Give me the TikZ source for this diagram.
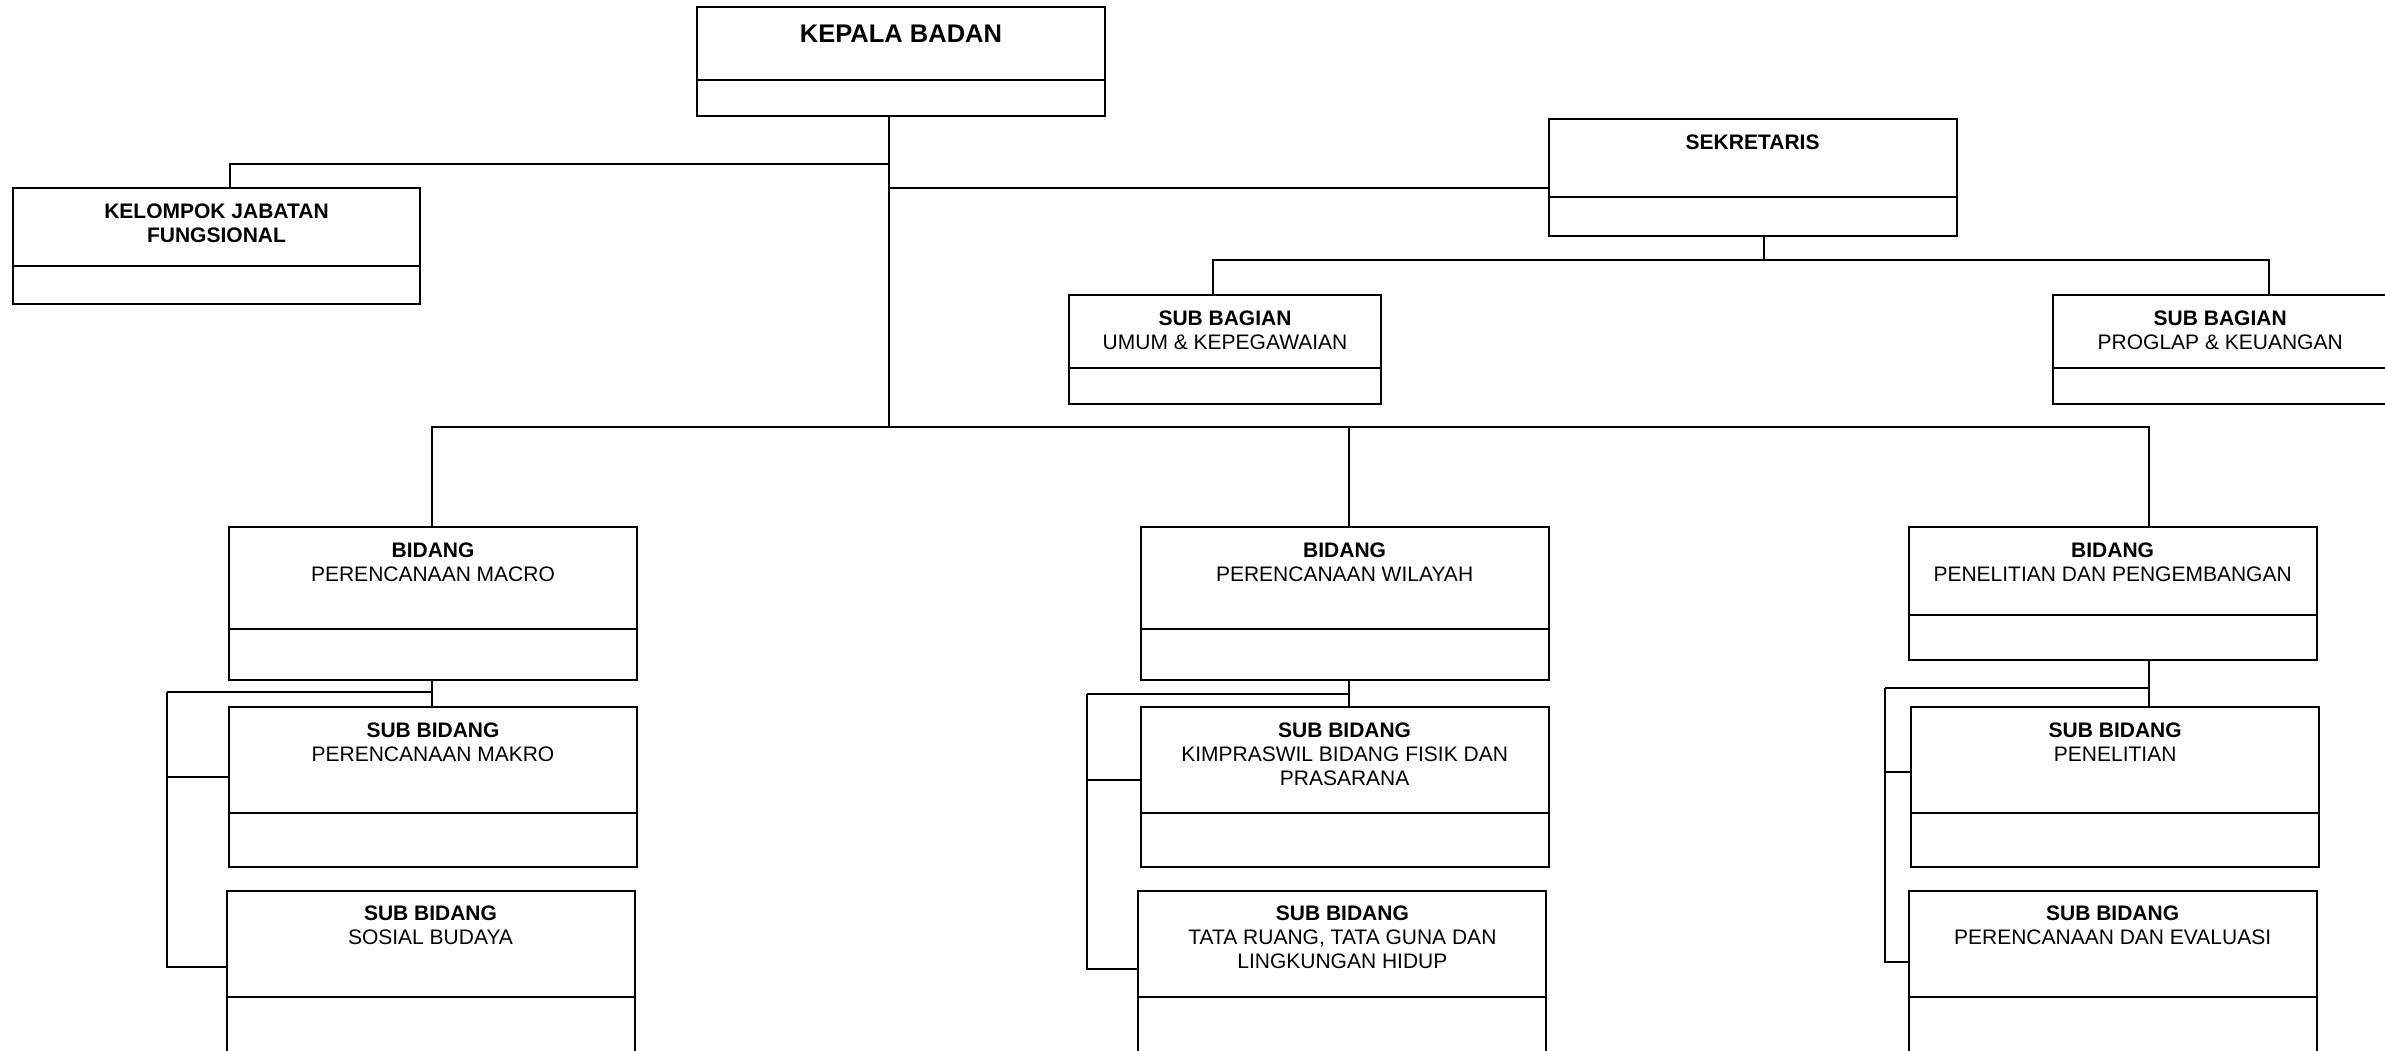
\documentclass[tikz,border=0pt]{standalone}
\usepackage{fontspec}
\setmainfont{Liberation Sans}
\usetikzlibrary{positioning}

\begin{document}
\begin{tikzpicture}[
        x=1pt, y=-1pt,
        font=\fontsize{21}{24}\selectfont,
        cell/.style={rectangle,draw,line width=2pt,inner sep=0pt,outer sep=0pt,anchor=north west},
        wide/.style={cell,minimum width=408pt},
        title/.style={align=center,inner sep=0pt,anchor=north},
        link/.style={line width=2pt}
    ]
    \useasboundingbox (0,0) rectangle (2385,1050);

    % pimpinan
    \node[wide,minimum height=73.3pt] (kb) at (697,6.7) {};
    \node[wide,minimum height=36pt,below=0pt of kb] (kb-b) {};
    \node[title,below=18.5pt of kb.north,font=\fontsize{25.5}{28}\selectfont\bfseries] (kb-t) {KEPALA BADAN};

    \node[cell,minimum width=407pt,minimum height=78pt] (kjf) at (13,188) {};
    \node[cell,minimum width=407pt,minimum height=38pt,below=0pt of kjf] (kjf-b) {};
    \node[title,below=16pt of kjf.north] (kjf-t) {\textbf{KELOMPOK JABATAN}\\\textbf{FUNGSIONAL}};

    % sekretariat
    \node[wide,minimum height=78.3pt] (sek) at (1548.6,118.7) {};
    \node[wide,minimum height=39pt,below=0pt of sek] (sek-b) {};
    \node[title,below=15.8pt of sek.north] (sek-t) {\textbf{SEKRETARIS}};

    \node[cell,minimum width=312pt,minimum height=72.7pt] (sbu) at (1069,295) {};
    \node[cell,minimum width=312pt,minimum height=36.3pt,below=0pt of sbu] (sbu-b) {};
    \node[title,below=16pt of sbu.north] (sbu-t) {\textbf{SUB BAGIAN}\\UMUM \& KEPEGAWAIAN};

    \node[cell,minimum width=335pt,minimum height=72.7pt] (sbp) at (2052.7,295) {};
    \node[cell,minimum width=335pt,minimum height=36.3pt,below=0pt of sbp] (sbp-b) {};
    \node[title,below=16pt of sbp.north] (sbp-t) {\textbf{SUB BAGIAN}\\PROGLAP \& KEUANGAN};

    % bidang
    \node[wide,minimum height=101.7pt] (bm) at (229,527.4) {};
    \node[wide,minimum height=51.2pt,below=0pt of bm] (bm-b) {};
    \node[title,below=15.3pt of bm.north] (bm-t) {\textbf{BIDANG}\\PERENCANAAN MACRO};

    \node[wide,minimum height=101.7pt] (bw) at (1140.6,527.4) {};
    \node[wide,minimum height=51.2pt,below=0pt of bw] (bw-b) {};
    \node[title,below=15.3pt of bw.north] (bw-t) {\textbf{BIDANG}\\PERENCANAAN WILAYAH};

    \node[wide,minimum height=87.6pt] (bp) at (1908.6,527.4) {};
    \node[wide,minimum height=44.6pt,below=0pt of bp] (bp-b) {};
    \node[title,below=15.3pt of bp.north] (bp-t) {\textbf{BIDANG}\\PENELITIAN DAN PENGEMBANGAN};

    % sub bidang
    \node[wide,minimum height=106.2pt] (sm1) at (229,707) {};
    \node[wide,minimum height=53.7pt,below=0pt of sm1] (sm1-b) {};
    \node[title,below=15.3pt of sm1.north] (sm1-t) {\textbf{SUB BIDANG}\\PERENCANAAN MAKRO};

    \node[wide,minimum height=106.7pt] (sm2) at (226.5,890.7) {};
    \node[wide,minimum height=60pt,below=0pt of sm2] (sm2-b) {};
    \node[title,below=15.3pt of sm2.north] (sm2-t) {\textbf{SUB BIDANG}\\SOSIAL BUDAYA};

    \node[wide,minimum height=106.2pt] (sw1) at (1140.6,707) {};
    \node[wide,minimum height=53.7pt,below=0pt of sw1] (sw1-b) {};
    \node[title,below=15.3pt of sw1.north] (sw1-t) {\textbf{SUB BIDANG}\\KIMPRASWIL BIDANG FISIK DAN\\PRASARANA};

    \node[wide,minimum height=106.7pt] (sw2) at (1138.4,890.7) {};
    \node[wide,minimum height=60pt,below=0pt of sw2] (sw2-b) {};
    \node[title,below=15.3pt of sw2.north] (sw2-t) {\textbf{SUB BIDANG}\\TATA RUANG, TATA GUNA DAN\\LINGKUNGAN HIDUP};

    \node[wide,minimum height=106.2pt] (sp1) at (1911.2,707) {};
    \node[wide,minimum height=53.7pt,below=0pt of sp1] (sp1-b) {};
    \node[title,below=15.3pt of sp1.north] (sp1-t) {\textbf{SUB BIDANG}\\PENELITIAN};

    \node[wide,minimum height=106.7pt] (sp2) at (1908.6,890.7) {};
    \node[wide,minimum height=60pt,below=0pt of sp2] (sp2-b) {};
    \node[title,below=15.3pt of sp2.north] (sp2-t) {\textbf{SUB BIDANG}\\PERENCANAAN DAN EVALUASI};

    % junctions
    \coordinate (trunk) at (888.5,427);
    \coordinate (j-kjf) at (229.6,163.7);
    \coordinate (j-sek) at (888.5,188.3);
    \coordinate (j-sb) at (1764,259.7);
    \coordinate (j-sbu) at (1213.3,259.7);
    \coordinate (j-sbp) at (2269.3,259.7);
    \coordinate (j-bm) at (432,427);
    \coordinate (j-bw) at (1349,427);
    \coordinate (j-bp) at (2149,427);
    \coordinate (r-m) at (166.8,692.2);
    \coordinate (r-w) at (1086.6,694);
    \coordinate (r-p) at (1885,687.7);

    % lines
    \draw[link] (trunk |- kb-b.south) -- (trunk);
    \draw[link] (trunk |- j-kjf) -- (j-kjf) -- (j-kjf |- kjf.north);
    \draw[link] (j-sek) -- (j-sek -| sek.west);

    \draw[link] (j-sb |- sek-b.south) -- (j-sb);
    \draw[link] (j-sbu |- sbu.north) -- (j-sbu) -- (j-sbp) -- (j-sbp |- sbp.north);

    \draw[link] (j-bm |- bm.north) -- (j-bm) -- (j-bp) -- (j-bp |- bp.north);
    \draw[link] (j-bw) -- (j-bw |- bw.north);

    \draw[link] (bm-b.south -| j-bm) -- (sm1.north -| j-bm);
    \draw[link] (r-m) -- (r-m -| j-bm);
    \draw[link] ([yshift=-70.4pt]sm1.north west) -| (r-m);
    \draw[link] ([yshift=-76.5pt]sm2.north west) -| (r-m);

    \draw[link] (bw-b.south -| j-bw) -- (sw1.north -| j-bw);
    \draw[link] (r-w) -- (r-w -| j-bw);
    \draw[link] ([yshift=-72.6pt]sw1.north west) -| (r-w);
    \draw[link] ([yshift=-78.3pt]sw2.north west) -| (r-w);

    \draw[link] (bp-b.south -| j-bp) -- (sp1.north -| j-bp);
    \draw[link] (r-p) -- (r-p -| j-bp);
    \draw[link] ([yshift=-65.2pt]sp1.north west) -| (r-p);
    \draw[link] ([yshift=-71.6pt]sp2.north west) -| (r-p);
\end{tikzpicture}
\end{document}
